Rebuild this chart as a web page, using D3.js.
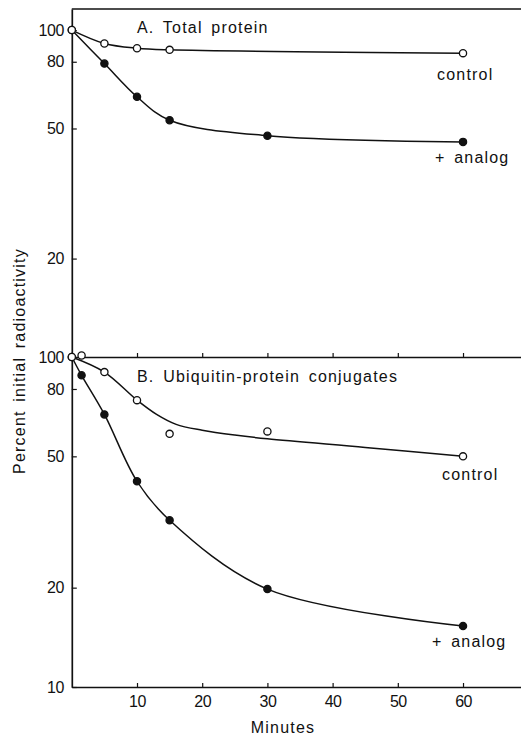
<!DOCTYPE html>
<html>
<head>
<meta charset="utf-8">
<script src="https://cdn.jsdelivr.net/npm/d3@7"></script>
<style>
  body { margin: 0; background: #fff; }
  svg { display: block; }
  text { font-family: "Liberation Sans", Arial, Helvetica, sans-serif; fill: #111; }
  .lbl { font-size: 16px; letter-spacing: 1.2px; word-spacing: 3px; }
  .tick text { font-size: 16px; font-family: "Liberation Sans", Arial, sans-serif; }
</style>
</head>
<body>
<div class="container"></div>
<script>
// panel A: total protein
const timesA = [0, 5, 10, 15, 30, 60]
const controlA = [100, 91, 88, 87, null, 85]
const analogA = [100, 79, 62.5, 53, 47.5, 45.5]

// panel B: ubiquitin-protein conjugates
const timesB = [0, 1.5, 5, 10, 15, 30, 60]
const controlB = [100, 101, 90, 74, 58.5, 59.5, 50]
const analogB = [100, 88, 67, 42, 32, 19.8, 15.3]
// hand drawn smooth curve for control B (does not pass through every point)
const fitTimesB = [0, 5, 10, 13, 16, 20, 25, 30, 45, 60]
const controlFitB = [100, 90, 74, 67, 62.5, 60, 58, 56.5, 53.2, 50]

const xTicks = [10, 20, 30, 40, 50, 60]
const yTicksA = [20, 50, 80, 100]
const yTicksB = [10, 20, 50, 80, 100]

const width = 521
const height = 735

const svg = d3.select(".container").append("svg")
    .attr("width", width)
    .attr("height", height)

const x = d3.scaleLinear().domain([0, 69]).range([71.8, 521.7])
const yA = d3.scaleLog().domain([10, 116]).range([357, 9])
const yB = d3.scaleLog().domain([10, 100]).range([687, 357])

// axes
const xAxis = d3.axisBottom(x).tickValues(xTicks).tickSize(-4).tickSizeOuter(0).tickPadding(9)
const midAxis = d3.axisBottom(x).tickValues(xTicks).tickSize(-4).tickSizeOuter(0).tickFormat("")

svg.append("g")
    .attr("transform", `translate(0,${yB(10)})`)
    .call(xAxis)
svg.append("g")
    .attr("transform", `translate(0,${yB(100)})`)
    .call(midAxis)

svg.append("line")
    .attr("x1", x.range()[0]).attr("x2", x.range()[1])
    .attr("y1", yA.range()[1]).attr("y2", yA.range()[1])
    .attr("stroke", "#111").attr("stroke-width", 1.4)

svg.append("g")
    .attr("transform", `translate(${x(0)},0)`)
    .call(d3.axisLeft(yA).tickValues(yTicksA).tickSize(-5).tickSizeOuter(0).tickPadding(8).tickFormat(d3.format("d")))
svg.append("g")
    .attr("transform", `translate(${x(0)},0)`)
    .call(d3.axisLeft(yB).tickValues(yTicksB).tickSize(-5).tickSizeOuter(0).tickPadding(8).tickFormat(d3.format("d")))

svg.selectAll(".domain").attr("stroke", "#111").attr("stroke-width", 1.7)
svg.selectAll(".tick line").attr("stroke", "#111").attr("stroke-width", 1.2)
svg.selectAll(".tick text").attr("fill", "#111").attr("letter-spacing", "-0.5px")

// curves and markers
function drawSeries(times, values, yScale, filled, fitTimes, fitValues) {
    const pts = times.map((t, i) => [t, values[i]]).filter(d => d[1] != null)
    const fit = fitTimes ? fitTimes.map((t, i) => [t, fitValues[i]]) : pts
    const line = d3.line()
        .x(d => x(d[0]))
        .y(d => yScale(d[1]))
        .curve(d3.curveCatmullRom.alpha(0.5))
    svg.append("path")
        .datum(fit)
        .attr("d", line)
        .attr("fill", "none")
        .attr("stroke", "#111")
        .attr("stroke-width", 1.5)
    svg.selectAll(null)
        .data(pts)
        .enter()
        .append("circle")
        .attr("cx", d => x(d[0]))
        .attr("cy", d => yScale(d[1]))
        .attr("r", 3.6)
        .attr("fill", filled ? "#111" : "#fff")
        .attr("stroke", "#111")
        .attr("stroke-width", 1.3)
}

drawSeries(timesA, analogA, yA, true)
drawSeries(timesA, controlA, yA, false)
drawSeries(timesB, analogB, yB, true)
drawSeries(timesB, controlB, yB, false, fitTimesB, controlFitB)

// labels
function label(txt, px, py, anchor) {
    svg.append("text")
        .attr("class", "lbl")
        .attr("x", px)
        .attr("y", py)
        .attr("text-anchor", anchor || "start")
        .text(txt)
}

label("A. Total protein", 137, 32.5)
label("B. Ubiquitin-protein conjugates", 137, 382)
label("control", 437, 80)
label("+ analog", 435, 163)
label("control", 442, 480)
label("+ analog", 432, 647)
label("Minutes", 283, 733, "middle")

svg.append("text")
    .attr("class", "lbl")
    .attr("transform", "translate(25,361) rotate(-90)")
    .attr("text-anchor", "middle")
    .text("Percent initial radioactivity")
</script>
</body>
</html>
